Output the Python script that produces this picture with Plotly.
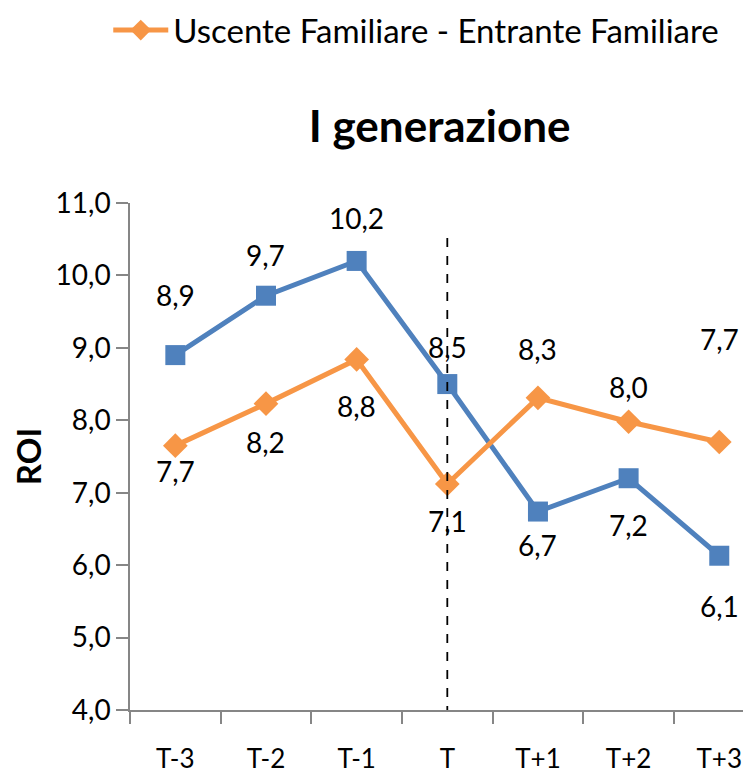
import plotly.graph_objects as go

## Données
periodi = ["T-3", "T-2", "T-1", "T", "T+1", "T+2", "T+3"]
roi_blu = [8.90, 9.72, 10.20, 8.50, 6.74, 7.20, 6.13]
roi_arancio = [7.65, 8.23, 8.84, 7.12, 8.31, 7.98, 7.70]
nome_arancio = "Uscente Familiare - Entrante Familiare"
nome_blu = "Uscente Familiare - Entrante Non Familiare"

blu = "#4F81BD"
arancio = "#F79646"
font = "Lato"

fig = go.Figure()

fig.add_trace(go.Scatter(x=periodi, y=roi_blu, mode="lines+markers", name=nome_blu,
                         line=dict(color=blu, width=5),
                         marker=dict(symbol="square", size=20, color=blu),
                         showlegend=False))
fig.add_trace(go.Scatter(x=periodi, y=roi_arancio, mode="lines+markers", name=nome_arancio,
                         line=dict(color=arancio, width=5),
                         marker=dict(symbol="diamond", size=19, color=arancio)))

# etichette dei valori (spostamento in pixel)
shift_blu = [60, 41, 43, 37, -33, -47, -50]
shift_arancio = [-25, -38, -47, -37, 49, 35, 103]
for serie, shifts in [(roi_blu, shift_blu), (roi_arancio, shift_arancio)]:
    for p, v, s in zip(periodi, serie, shifts):
        fig.add_annotation(x=p, y=v, text=f"{v:.1f}".replace(".", ","), showarrow=False,
                           yshift=s, font=dict(family=font, size=28, color="black"))

# linea tratteggiata su T
fig.add_shape(type="line", xref="x", yref="y", x0="T", x1="T", y0=3.93, y1=10.63,
              line=dict(color="black", width=1.8, dash="dash"))

# la pagina ha 8px di margine nel body: figura un po' più piccola
fig.update_layout(
    width=743, height=765,
    margin=dict(l=122, r=0, t=195, b=63, autoexpand=False),
    paper_bgcolor="white", plot_bgcolor="white",
    separators=",.",
    font=dict(family=font, size=28, color="black"),
    title=dict(text="<b>I generazione</b>", x=0.581, xanchor="center", y=1 - 119 / 765,
               yanchor="middle", font=dict(family=font, size=44, color="black")),
    legend=dict(orientation="h", x=-0.035, y=1.341, xanchor="left", yanchor="middle",
                itemwidth=55, font=dict(family=font, size=33, color="black")),
)

fig.update_xaxes(range=[-0.5, 6.35], showgrid=False, showline=True, linecolor="#868686",
                 linewidth=1.5, ticks="outside", tickson="boundaries", ticklen=12,
                 tickcolor="#868686", tickwidth=1.5, ticklabelstandoff=25,
                 tickfont=dict(size=26), automargin=False)
fig.update_yaxes(range=[4, 11], dtick=1, tickformat=".1f", showgrid=False, showline=True,
                 linecolor="#868686", linewidth=1.5, ticks="outside", ticklen=12,
                 tickcolor="#868686", tickwidth=1.5, zeroline=False, automargin=False,
                 title=dict(text="<b>ROI</b>", font=dict(size=33), standoff=20),
                 tickfont=dict(size=28))

fig.write_html("out.html")
